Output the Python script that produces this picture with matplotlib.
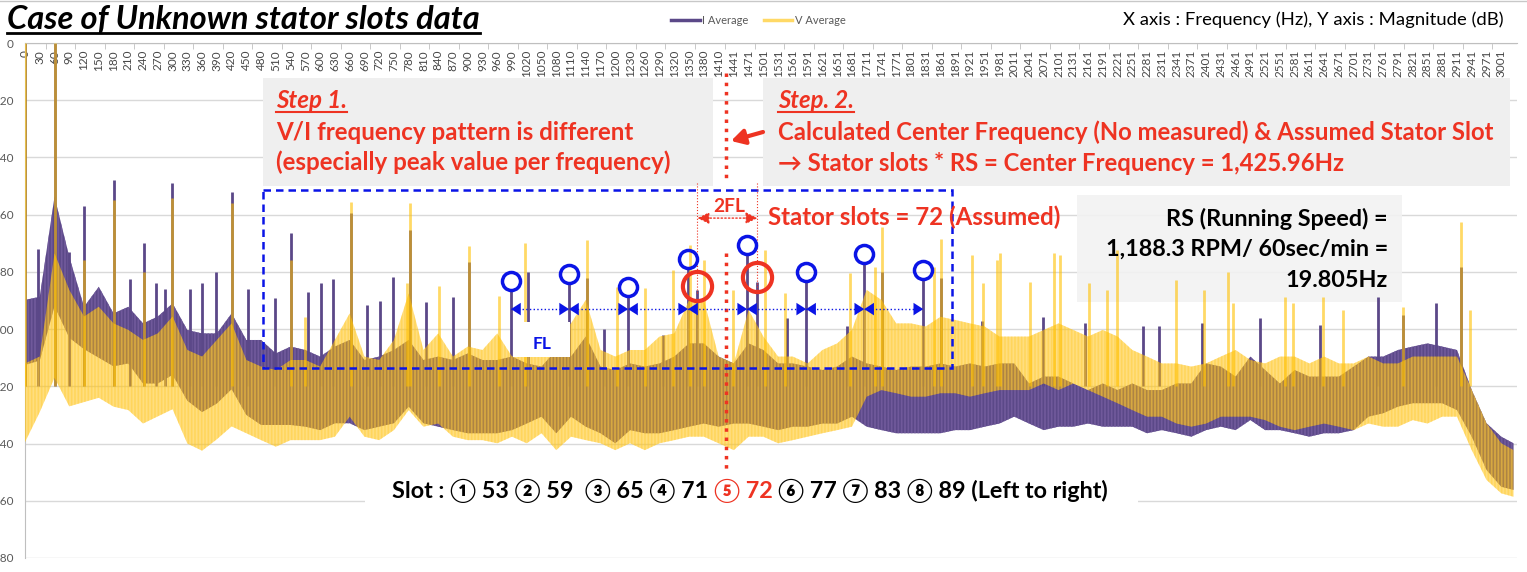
import matplotlib
matplotlib.use("Agg")
import matplotlib.pyplot as plt
import numpy as np
from matplotlib.transforms import Affine2D
from matplotlib.patches import Rectangle
from matplotlib.lines import Line2D

# category labels printed along the 0 dB axis (Hz)
tick_hz = list(range(0, 1411, 30)) + list(range(1441, 3002, 30))

# dense part of both spectra, read about every 30 Hz (dB)
band_hz = tick_hz + [3026]
i_top = [-89.8, -88.7, -53.7, -74.7, -92.2, -85.2, -94.5, -92.2, -98, -95.6, -91, -100.3,
         -101.5, -101.5, -94.5, -103.8, -103.8, -108.5, -106.1, -107.3, -109.6, -106.1,
         -103.8, -110.8, -109.6, -107.3, -103.8, -110.8, -109.6, -110.8, -108.5, -110.8,
         -110.8, -109.6,
         -112, -113.1, -107.3, -109.6, -102.6, -113.1, -114.3, -112, -113.1, -112, -109.6,
         -105, -105, -109.6,
         -112, -105, -107.3, -112, -112, -113.1, -114.3, -113.1, -109.6, -112, -113.1,
         -114.3, -113.1, -113.1, -112, -113.1, -112, -113.1, -112,
         -112, -119, -116.6, -116.6, -119, -121.3, -119, -121.3, -119, -121.3, -121.3,
         -119, -119, -112, -113.1, -116.6, -109.6, -114.3, -119, -114.3, -116.6, -116.6,
         -116.6, -113.1, -109.6, -109.6, -107.3, -106.1, -105, -106.1, -107.3, -121.3,
         -132.9, -137.6, -139.9]
i_bot = [-112.5, -111, -92, -103, -107, -110, -113, -112, -119, -119, -116, -125, -129,
         -126, -121, -130, -133.5, -133.5, -133.5, -134.1, -135.3, -132.9, -132.9, -135.3,
         -134.1, -132.9, -127.1, -132.9, -134.1, -135.3, -136.4, -136.4, -136.4, -135.3,
         -133, -130.6, -136.4, -130.6, -134.1, -136.4, -139.9, -135.3, -136.4, -136.4,
         -135.3, -134.1, -133, -134.1,
         -133, -133, -134.1, -135.3, -134.1, -134.1, -133, -133, -130.6, -134.1, -135.3,
         -136.4, -136.4, -136.4, -136.4, -135.3, -135.3, -134.1, -133,
         -130.6, -133, -135.3, -134.1, -134.1, -133, -134.1, -134.1, -134.1, -136.4,
         -135.3, -136.4, -137.6, -135.3, -134.1, -135.3, -131.8, -135.3, -135.3, -136.4,
         -137.6, -136.4, -136.4, -135.3, -130.6, -129.4, -127.1, -125.9, -125.9, -125.9,
         -128.3, -137.6, -149.2, -155.1, -156.2]
v_top = [-112, -109.6, -73.5, -86.3, -95.6, -92.2, -98, -100.3, -103.8, -101.5, -95.6,
         -107.3, -109.6, -103.8, -98, -110.8, -113.1, -114.3, -110.8, -110.8, -113.1,
         -103.8, -94.5, -109.6, -110.8, -103.8, -87.5, -107.3, -101.5, -109.6, -106.1,
         -107.3, -101.5, -109.6,
         -107.3, -109.6, -102.6, -98, -89.8, -107.3, -109.6, -107.3, -107.3, -102.6,
         -101.5, -89.8, -89.8, -109.6,
         -112, -93.3, -102.6, -109.6, -109.6, -112, -107.3, -105, -100.3, -86.3, -89.8,
         -98, -98, -99.1, -95.7, -96.8, -98, -99.1, -102.6,
         -102.6, -102.6, -100.3, -98, -100.3, -102.6, -100.3, -102.6, -107.3, -109.6,
         -112, -112, -113.1, -112, -109.6, -107.3, -110.8, -112, -109.6, -109.6, -112,
         -109.6, -112, -112, -109.6, -112, -112, -109.6, -109.6, -109.6, -109.6, -121.3,
         -132.9, -139.9, -142.3]
v_bot = [-139.5, -129, -117, -127, -125.5, -124, -127.1, -128.3, -133, -130.5, -128, -140,
         -142.5, -138.5, -134, -136.4, -138.8, -141.1, -138.8, -138.8, -138.8, -137.6,
         -130.6, -137.6, -138.8, -135.3, -128.3, -134.1, -133, -137.6, -138.8, -138.8,
         -139.9, -137.6,
         -139.9, -136.4, -142.3, -137.6, -138.8, -139.9, -142.3, -139.9, -142.3, -139.9,
         -138.8, -137.6, -137.6, -139.9,
         -142.3, -137.6, -137.6, -139.9, -138.8, -137.6, -136.4, -135.3, -134.1, -123.6,
         -121.3, -122.4, -123.6, -123.6, -122.4, -122.4, -123.6, -122.4, -121.3,
         -121.3, -121.3, -119, -121.3, -119, -121.3, -123.6, -125.9, -128.3, -130.6,
         -130.6, -133, -134.1, -133, -130.6, -130.6, -130.6, -131.8, -134.1, -135.3,
         -134.1, -133, -134.1, -135.3, -133, -134.1, -134.1, -131.8, -133, -130.6,
         -130.6, -142.3, -152.7, -157.4, -158.6]

# isolated spikes above the band (Hz, dB)
i_peak_hz = [0, 27, 60, 90, 119, 180, 214, 241, 267, 285, 299, 335, 360, 388, 421, 454,
             508, 541, 575, 602, 627, 662, 695, 722, 748, 782, 816, 870, 902,
             1023, 1142, 1176, 1296, 1550, 1670, 1742, 1862, 1945,
             2069, 2155, 2273, 2306, 2392, 2511, 2633, 2751, 2802, 2868, 2919]
i_peak_db = [0, -72, 0, -73, -57, -48, -82.6, -70, -84, -86, -49, -86, -84, -80, -52, -86,
             -89, -66.5, -87, -84, -82.6, -59.5, -91.6, -90, -81.7, -65.4, -90.6, -88.7, -76.4,
             -80, -82, -100, -102, -96, -99, -80, -82, -97,
             -95.7, -98, -99, -99, -98, -96.2, -98.6, -88.7, -95, -90.8, -78.2]
v_peak_hz = [0, 60, 119, 180, 241, 299, 421, 541, 569, 662, 777, 782, 841, 902, 964,
             1016, 1142, 1203, 1260, 1318, 1351, 1380, 1440, 1504, 1545, 1677, 1728, 1742,
             1847, 1862, 1925, 1948, 1975,
             1982, 2043, 2092, 2103, 2162, 2199, 2219, 2340, 2397, 2446, 2456, 2561, 2578,
             2638, 2679, 2802, 2919, 2938]
v_peak_db = [0, 0, -76, -55, -80, -54, -56, -76, -95.6, -55.5, -84, -56, -85, -71, -88.4,
             -70, -68.9, -85.2, -85.7, -79.3, -70.6, -75.8, -86.3, -72.4, -87.5, -80.5, -78.2,
             -64.2, -78.2, -68.6, -74.1, -84, -75.8,
             -73.5, -83.4, -73.5, -74.1, -84, -86.3, -72.4, -82.8, -86.3, -79.9, -91, -88.7,
             -91, -88.7, -93.3, -92.2, -62.4, -93.3]

# stator slot peaks (blue circles) and the 2FL pair (red circles) in the I spectrum
slot_hz = [988, 1106, 1226, 1348, 1468, 1588, 1706, 1826]
slot_db = [-86, -83.5, -88, -78.3, -73.4, -82.8, -76.5, -82.1]
pair_hz = [1367, 1489]
pair_db = [-86.3, -83.4]
center_hz = 1425.96

I_COL = '#5B4888'
V_COL = '#FFC000'
RED = '#EE3322'
BLUE = '#0A14E6'
GRAY_TXT = '#595959'

plt.rcParams['font.family'] = ['Lato', 'DejaVu Sans']
plt.rcParams['hatch.linewidth'] = 1.2

fig = plt.figure(figsize=(15.27, 5.72), dpi=100)
ax = fig.add_axes([25 / 1527, 14 / 572, 1492 / 1527, 515 / 572])
PX = Affine2D().scale(1 / 100, -1 / 100).translate(0, 5.72) + fig.dpi_scale_trans
renderer = fig.canvas.get_renderer()

# axis layout first: moving the spine resets the ticks
ax.spines['bottom'].set_position(('data', 0))
ax.spines['bottom'].set_color('#BFBFBF')
ax.spines['left'].set_color('#BFBFBF')
ax.spines['top'].set_visible(False)
ax.spines['right'].set_visible(False)
ax.set_xlim(0, 3033)
ax.set_ylim(-180, 0)
ax.set_xticks(tick_hz)
ax.set_xticklabels([str(t) for t in tick_hz])
ax.set_xticks([h + 12 for h in tick_hz[1::2]], minor=True)
ax.tick_params(axis='x', which='major', length=0, pad=5, labelrotation=90, labelsize=8.5,
               labelcolor='#474747')
ax.tick_params(axis='x', which='minor', length=4, color='#BFBFBF', direction='out')
ax.set_yticks(range(-180, 1, 20))
ax.tick_params(axis='y', length=0, pad=8, labelsize=8.5, labelcolor=GRAY_TXT)
ax.yaxis.grid(True, color='#D9D9D9', lw=1)
ax.set_axisbelow(True)

# spectra
ax.fill_between(band_hz, i_bot, i_top, facecolor=I_COL, edgecolor=(0.45, 0.36, 0.62, 0.9),
                hatch='|||||', lw=0, zorder=2)
ax.vlines(i_peak_hz + slot_hz + pair_hz, -120, i_peak_db + slot_db + pair_db,
          color=I_COL, lw=2, zorder=2)
ax.fill_between(band_hz, v_bot, v_top, facecolor=(1.0, 0.75, 0.0, 0.5),
                edgecolor=(1.0, 0.8, 0.2, 0.45), hatch='|||||', lw=0, zorder=3)
ax.vlines(v_peak_hz, -120, v_peak_db, color=V_COL, alpha=0.6, lw=2, zorder=3)

fig.add_artist(Line2D([0, 1527], [1, 1], transform=PX, color='#C8C8C8', lw=1))

fig.legend(handles=[Line2D([], [], color=I_COL, lw=2.5), Line2D([], [], color='#FFD966', lw=2.5)],
           labels=['I Average', 'V Average'], loc='center', bbox_to_anchor=(758 / 1527, 1 - 20 / 572),
           ncol=2, frameon=False, fontsize=8, handlelength=2.6, handletextpad=0.2,
           columnspacing=1.4, labelcolor=GRAY_TXT)


def put(px, py, s, width=None, size=10, ha='left', **kw):
    t = ax.text(px, py, s, transform=PX, ha=ha, va='baseline', fontsize=size, zorder=7, **kw)
    if width:
        w = t.get_window_extent(renderer).width
        t.set_fontsize(size * width / w)
    return t


def underline(t, py, lw):
    bb = t.get_window_extent(renderer)
    ax.add_line(Line2D([bb.x0, bb.x1], [py, py], transform=PX, color=t.get_color(),
                       lw=lw, clip_on=False, zorder=7))


def box(x, y, w, h, **kw):
    ax.add_patch(Rectangle((x, y), w, h, transform=PX, clip_on=False, **kw))


# title and axis note
t = put(7, 29, 'Case of Unknown stator slots data', width=473, weight='bold', style='italic')
underline(t, 33, 2)
put(1504, 25, 'X axis : Frequency (Hz), Y axis : Magnitude (dB)', width=379, ha='right')

# step boxes
box(263, 78, 450, 108, fc='#EFEFEF', ec='none', zorder=1)
box(763, 78, 747, 108, fc='#EFEFEF', ec='none', zorder=1)
t = put(276, 170, '(especially peak value per frequency)', width=397, weight='bold', color=RED)
fs1 = t.get_fontsize()
put(276, 140, 'V/I frequency pattern is different', size=fs1, weight='bold', color=RED)
t = put(276, 108, 'Step 1.', size=fs1, weight='bold', style='italic', color=RED)
underline(t, 112, 1.5)
t = put(778, 140, 'Calculated Center Frequency (No measured) & Assumed Stator Slot', width=719,
        weight='bold', color=RED)
fs2 = t.get_fontsize()
put(778, 171, '\u2192 Stator slots * RS = Center Frequency = 1,425.96Hz', size=fs2,
    weight='bold', color=RED)
t = put(778, 108, 'Step. 2.', size=fs2, weight='bold', style='italic', color=RED)
underline(t, 112, 1.5)
ax.annotate('', xy=(731, 141), xytext=(763, 132), xycoords=PX, textcoords=PX,
            arrowprops=dict(arrowstyle='-|>,head_length=0.8,head_width=0.45', color=RED,
                            lw=3, shrinkA=0, shrinkB=0), zorder=7)

# centre frequency line
ax.plot([center_hz, center_hz], [-10.5, -49], color=RED, lw=2.5, ls=':', zorder=6)
ax.plot([center_hz, center_hz], [-73.4, -149.2], color=RED, lw=2.5, ls=':', zorder=6)

# slot search region
box(263, 190, 689, 178, fill=False, ec=BLUE, lw=1.8, ls=(0, (3, 2)), zorder=4)

# 2FL marking
ax.vlines(pair_hz, -87.5, -49, colors=RED, lw=0.8, ls=':', zorder=6)
ax.annotate('', xy=(pair_hz[1], -61.2), xytext=(pair_hz[0], -61.2),
            arrowprops=dict(arrowstyle='<|-|>,head_length=0.7,head_width=0.35', color=RED,
                            lw=1, ls=':', shrinkA=0, shrinkB=0), zorder=6)
put(729, 212, '2FL', width=32, ha='center', weight='bold', color=RED)
put(768, 225, 'Stator slots = 72 (Assumed)', width=292, weight='bold', color=RED)

# circles on the peaks
ax.plot(slot_hz, np.array(slot_db) + 2.8, 'o', mfc='none', mec=BLUE, ms=13, mew=2.5, zorder=6)
ax.plot(pair_hz, np.array(pair_db) + 1.5, 'o', mfc='none', mec=RED, ms=21, mew=3, zorder=6)

# FL spacing arrows
ax.plot([slot_hz[0], slot_hz[-1]], [-93, -93], color=BLUE, lw=1, ls=':', zorder=6)
for a, b in zip(slot_hz[:-1], slot_hz[1:]):
    ax.annotate('', xy=(b, -93), xytext=(a, -93),
                arrowprops=dict(arrowstyle='<|-|>,head_length=0.7,head_width=0.45', color=BLUE,
                                lw=0.01, shrinkA=0, shrinkB=0), zorder=6)
box(513, 322, 57, 35, fc='white', ec='none', zorder=5)
put(542, 349, 'FL', width=19, ha='center', weight='bold', color=BLUE)

# running speed note
box(1077, 195, 325, 107, fc='#F2F2F2', ec='none', alpha=0.9, zorder=1.5)
t = put(1388, 256, '1,188.3 RPM/ 60sec/min =', width=283, ha='right', weight='bold')
fs3 = t.get_fontsize()
put(1388, 226, 'RS (Running Speed) =', size=fs3, ha='right', weight='bold')
put(1388, 287, '19.805Hz', size=fs3, ha='right', weight='bold')

# slot list
SLOT_FONT = ['Lato', 'Noto Sans CJK JP', 'DejaVu Sans']
box(365, 474, 773, 36, fc='white', ec='none', zorder=5)
p1 = 'Slot : \u2460 53 \u2461 59  \u2462 65 \u2463 71'
p2 = '\u2464 72'
p3 = '\u2465 77 \u2466 83 \u2467 89 (Left to right)'
full = p1 + ' ' + p2 + ' ' + p3
probe = put(392, 498, full, width=718, weight='bold', family=SLOT_FONT)
fs4 = probe.get_fontsize()


def width_of(s):
    tt = put(0, 0, s, size=fs4, weight='bold', family=SLOT_FONT)
    w = tt.get_window_extent(renderer).width
    tt.remove()
    return w


w_full = width_of(full)
x2 = 392 + width_of(p1 + ' ' + p2) - width_of(p2)
x3 = 392 + w_full - width_of(p3)
probe.remove()
put(392, 498, p1, size=fs4, weight='bold', family=SLOT_FONT)
put(x2, 498, p2, size=fs4, weight='bold', family=SLOT_FONT, color=RED)
put(x3, 498, p3, size=fs4, weight='bold', family=SLOT_FONT)

fig.savefig('out.png', dpi=100)
